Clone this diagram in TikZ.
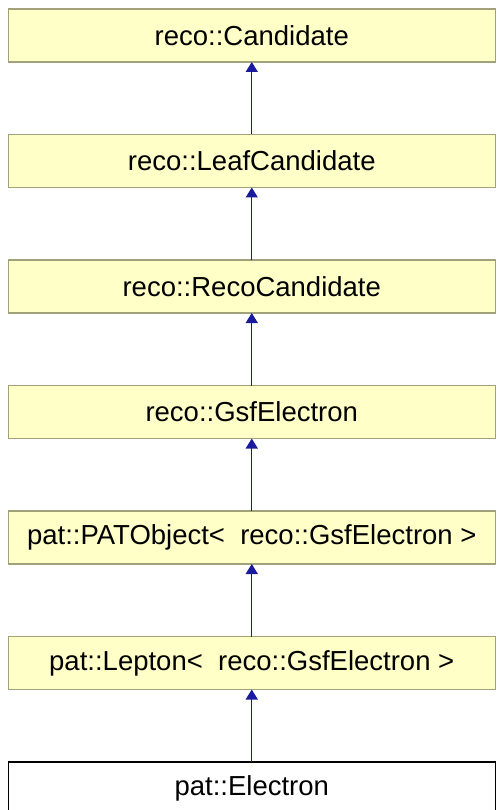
\documentclass[tikz,border=0pt]{standalone}
\usepackage{fontspec}
\setmainfont{Liberation Sans}
\usetikzlibrary{positioning,arrows.meta}
\definecolor{dxYellow}{HTML}{FFFFC8}
\definecolor{dxOlive}{HTML}{A2A27A}
\definecolor{dxBlue}{HTML}{1A1AA0}
\tikzset{
  basenode/.style={draw=dxOlive, fill=dxYellow, line width=1.5pt,
                   minimum width=487pt, minimum height=53pt, inner sep=0pt,
                   outer sep=0pt, font=\fontsize{27.5}{32}\selectfont},
  leafnode/.style={basenode, draw=black, fill=white},
  inheritarrow/.style={-{Triangle[length=10pt, width=12pt]}, line width=1.4pt,
                       dxBlue},
}

\begin{document}
\begin{tikzpicture}[
  x=1pt, y=1pt,
  node distance=72.5pt
]
\useasboundingbox (0,0) rectangle (496,-810);

%% Base classes
\node[basenode] (cand) at (251.75,-35.5) {reco::Candidate};
\node[basenode, below=of cand] (leafcand) {reco::LeafCandidate};
\node[basenode, below=of leafcand] (recocand) {reco::RecoCandidate};
\node[basenode, below=of recocand] (gsfele) {reco::GsfElectron};
\node[basenode, below=of gsfele] (patobj) {pat::PATObject<~ reco::GsfElectron >};
\node[basenode, below=of patobj] (lepton) {pat::Lepton<~ reco::GsfElectron >};

%% Derived class
\node[leafnode, below=of lepton] (patele) {pat::Electron};

%% Inheritance
\draw[inheritarrow] (leafcand) -- (cand);
\draw[inheritarrow] (recocand) -- (leafcand);
\draw[inheritarrow] (gsfele) -- (recocand);
\draw[inheritarrow] (patobj) -- (gsfele);
\draw[inheritarrow] (lepton) -- (patobj);
\draw[inheritarrow] (patele) -- (lepton);
\end{tikzpicture}
\end{document}
